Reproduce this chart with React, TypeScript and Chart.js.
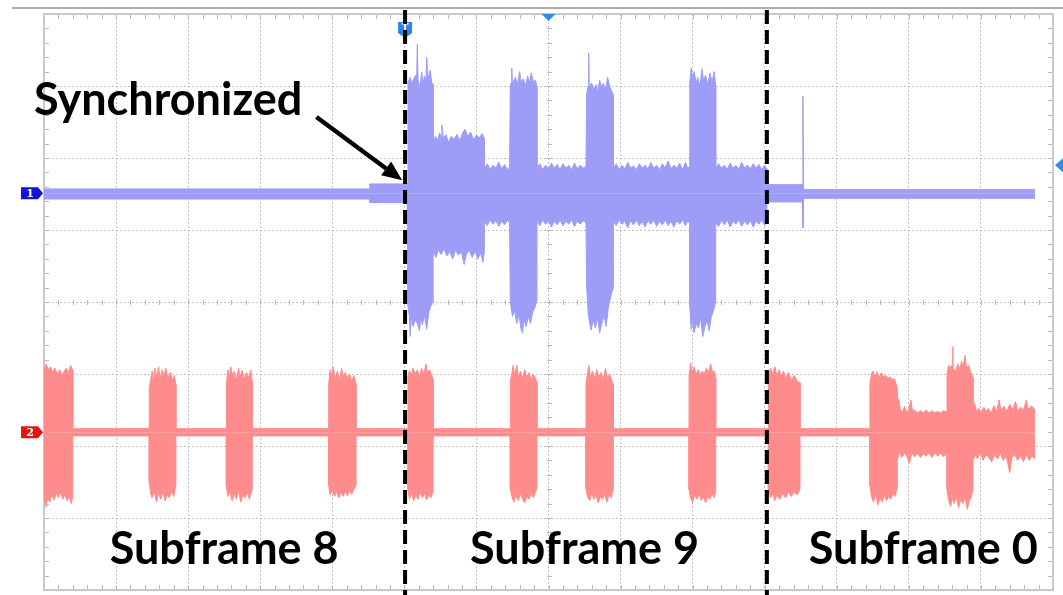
import React, { useEffect, useRef } from "react";
import { Chart, registerables } from "chart.js";

Chart.register(...registerables);

type P = [number, number];

// x: horizontal divisions (0..14), y: vertical divisions (0..8)
const xDivisions = 14;
const yDivisions = 8;

const ch1Offset = 5.51;
const ch2Offset = 2.19;

const ch1Upper: P[] = [
  [0, 5.57], [4.52, 5.57], [4.52, 5.64], [5.04, 5.64],
  [5.05, 7.05], [5.08, 7.12], [5.10, 7.04], [5.13, 7.10], [5.16, 7.15], [5.17, 7.06], [5.18, 7.58], [5.19, 7.08], [5.22, 6.98], [5.24, 7.20], [5.26, 7.03], [5.28, 7.14], [5.30, 7.05], [5.31, 7.40], [5.33, 7.10], [5.36, 7.22], [5.38, 7.05], [5.40, 7.02],
  [5.40, 6.22], [5.43, 6.30], [5.46, 6.25], [5.49, 6.35], [5.51, 6.27], [5.52, 6.46], [5.54, 6.28], [5.58, 6.32], [5.61, 6.22], [5.65, 6.30], [5.69, 6.26], [5.73, 6.33], [5.77, 6.24], [5.81, 6.35], [5.84, 6.40], [5.88, 6.30], [5.92, 6.36], [5.96, 6.25], [6.00, 6.32], [6.04, 6.28], [6.08, 6.34], [6.11, 6.27],
  [6.11, 5.85], [6.15, 5.92], [6.19, 5.84], [6.23, 5.90], [6.27, 5.86], [6.31, 5.94], [6.35, 5.85], [6.39, 5.91], [6.43, 5.84], [6.46, 5.88],
  [6.47, 7.00], [6.48, 7.04], [6.49, 7.25], [6.50, 7.04], [6.51, 7.05], [6.54, 7.12], [6.57, 7.02], [6.60, 7.20], [6.62, 7.06], [6.65, 7.10], [6.68, 7.00], [6.71, 7.14], [6.74, 7.04], [6.76, 7.18], [6.79, 7.06], [6.82, 7.08], [6.84, 6.98],
  [6.84, 5.86], [6.88, 5.92], [6.92, 5.84], [6.96, 5.90], [7.00, 5.85], [7.04, 5.93], [7.08, 5.86], [7.12, 5.91], [7.16, 5.84], [7.20, 5.92], [7.24, 5.86], [7.28, 5.90], [7.32, 5.84], [7.36, 5.93], [7.40, 5.85], [7.44, 5.90], [7.48, 5.86], [7.52, 5.88],
  [7.53, 6.90], [7.55, 7.00], [7.555, 7.00], [7.56, 7.46], [7.565, 6.98], [7.57, 6.98], [7.60, 7.04], [7.63, 6.95], [7.66, 7.02], [7.68, 6.92], [7.71, 7.08], [7.74, 6.98], [7.76, 7.04], [7.79, 6.95], [7.82, 7.12], [7.85, 7.00], [7.88, 6.92], [7.90, 6.88],
  [7.90, 5.86], [7.94, 5.92], [7.98, 5.84], [8.02, 5.90], [8.06, 5.85], [8.10, 5.94], [8.14, 5.86], [8.18, 5.89], [8.22, 5.84], [8.26, 5.92], [8.30, 5.86], [8.34, 5.90], [8.38, 5.85], [8.42, 5.94], [8.46, 5.86], [8.50, 5.90], [8.54, 5.84], [8.58, 5.92], [8.62, 5.86], [8.66, 5.96], [8.70, 5.85], [8.74, 5.90], [8.78, 5.86], [8.82, 5.93], [8.86, 5.84], [8.90, 5.94], [8.93, 5.86], [8.96, 5.88],
  [8.96, 7.05], [8.98, 7.25], [9.00, 7.10], [9.02, 7.20], [9.05, 7.04], [9.07, 7.12], [9.10, 7.00], [9.13, 7.24], [9.15, 7.08], [9.18, 7.15], [9.21, 7.02], [9.24, 7.18], [9.27, 7.06], [9.30, 7.20], [9.32, 7.00],
  [9.32, 5.85], [9.36, 5.92], [9.40, 5.86], [9.44, 5.90], [9.48, 5.84], [9.52, 5.93], [9.56, 5.86], [9.60, 5.90], [9.64, 5.84], [9.68, 5.94], [9.72, 5.86], [9.76, 5.90], [9.80, 5.85], [9.84, 5.92], [9.88, 5.86], [9.92, 5.91], [9.96, 5.84], [10.00, 5.90], [10.02, 5.86],
  [10.03, 5.63], [10.52, 5.63], [10.53, 6.86], [10.54, 5.56], [13.75, 5.56],
];

const ch1Lower: P[] = [
  [0, 5.43], [4.52, 5.43], [4.52, 5.38], [5.04, 5.38],
  [5.05, 3.95], [5.07, 3.80], [5.08, 3.52], [5.10, 3.80], [5.12, 3.66], [5.15, 3.75], [5.18, 3.70], [5.21, 3.60], [5.23, 3.78], [5.25, 3.68], [5.28, 3.82], [5.31, 3.62], [5.34, 3.86], [5.37, 3.95], [5.40, 4.03],
  [5.40, 4.70], [5.44, 4.62], [5.47, 4.72], [5.51, 4.66], [5.55, 4.74], [5.59, 4.64], [5.63, 4.70], [5.67, 4.60], [5.71, 4.72], [5.75, 4.65], [5.79, 4.70], [5.83, 4.52], [5.86, 4.66], [5.90, 4.72], [5.94, 4.62], [5.98, 4.70], [6.02, 4.60], [6.06, 4.68], [6.09, 4.55], [6.11, 4.70],
  [6.11, 5.12], [6.15, 5.06], [6.19, 5.14], [6.23, 5.08], [6.27, 5.13], [6.31, 5.05], [6.35, 5.12], [6.39, 5.07], [6.43, 5.14], [6.46, 5.10],
  [6.47, 4.00], [6.50, 3.80], [6.53, 3.88], [6.56, 3.70], [6.59, 3.82], [6.62, 3.62], [6.64, 3.57], [6.66, 3.75], [6.69, 3.66], [6.72, 3.80], [6.75, 3.70], [6.78, 3.86], [6.81, 3.92], [6.84, 4.02],
  [6.84, 5.12], [6.88, 5.06], [6.92, 5.14], [6.96, 5.08], [7.00, 5.13], [7.04, 5.04], [7.08, 5.12], [7.12, 5.07], [7.16, 5.14], [7.20, 5.06], [7.24, 5.12], [7.28, 5.08], [7.32, 5.14], [7.36, 5.05], [7.40, 5.12], [7.44, 5.08], [7.48, 5.13], [7.52, 5.10],
  [7.53, 4.20], [7.55, 3.86], [7.57, 3.70], [7.59, 3.61], [7.62, 3.75], [7.65, 3.64], [7.68, 3.78], [7.71, 3.57], [7.74, 3.70], [7.77, 3.82], [7.80, 3.66], [7.83, 3.92], [7.87, 4.10], [7.90, 4.20],
  [7.90, 5.12], [7.94, 5.06], [7.98, 5.14], [8.02, 5.08], [8.06, 5.12], [8.10, 5.03], [8.14, 5.13], [8.18, 5.07], [8.22, 5.14], [8.26, 5.06], [8.30, 5.12], [8.34, 5.04], [8.38, 5.13], [8.42, 5.08], [8.46, 5.14], [8.50, 5.05], [8.54, 5.12], [8.58, 5.07], [8.62, 5.14], [8.66, 5.06], [8.70, 5.12], [8.74, 5.04], [8.78, 5.13], [8.82, 5.08], [8.86, 5.14], [8.90, 5.06], [8.93, 5.12], [8.96, 5.10],
  [8.96, 3.95], [8.98, 3.62], [9.00, 3.75], [9.02, 3.57], [9.05, 3.70], [9.08, 3.64], [9.11, 3.78], [9.14, 3.52], [9.17, 3.66], [9.20, 3.74], [9.23, 3.60], [9.26, 3.80], [9.29, 3.88], [9.32, 4.00],
  [9.32, 5.10], [9.36, 5.05], [9.40, 5.13], [9.44, 5.07], [9.48, 5.14], [9.52, 5.04], [9.56, 5.12], [9.60, 5.08], [9.64, 5.14], [9.68, 5.05], [9.72, 5.12], [9.76, 5.07], [9.80, 5.13], [9.84, 5.04], [9.88, 5.12], [9.92, 5.08], [9.96, 5.14], [10.00, 5.06], [10.02, 5.12],
  [10.03, 5.39], [10.52, 5.39], [10.53, 5.03], [10.54, 5.44], [13.75, 5.44],
];

const ch2Upper: P[] = [
  [0.00, 3.05], [0.03, 3.14], [0.06, 3.06], [0.09, 3.10], [0.12, 3.02], [0.15, 3.08], [0.19, 3.00], [0.22, 3.06], [0.25, 2.98], [0.28, 3.04], [0.31, 3.08], [0.34, 3.02], [0.37, 3.12], [0.40, 3.05],
  [0.40, 2.24], [1.46, 2.24],
  [1.46, 2.80], [1.48, 2.92], [1.50, 3.04], [1.52, 2.90], [1.54, 3.08], [1.56, 2.95], [1.59, 3.10], [1.61, 2.92], [1.64, 3.06], [1.66, 2.96], [1.69, 3.08], [1.72, 2.94], [1.75, 3.02], [1.78, 2.92], [1.81, 2.98], [1.83, 2.85],
  [1.83, 2.24], [2.53, 2.24],
  [2.53, 2.85], [2.55, 3.06], [2.57, 2.95], [2.59, 3.10], [2.62, 2.96], [2.64, 3.04], [2.67, 2.92], [2.70, 3.08], [2.72, 2.96], [2.75, 3.05], [2.78, 2.93], [2.81, 3.02], [2.84, 2.94], [2.87, 3.06], [2.89, 2.88],
  [2.89, 2.24], [3.95, 2.24],
  [3.95, 2.85], [3.97, 3.06], [3.99, 2.96], [4.01, 3.10], [4.04, 2.94], [4.07, 3.04], [4.10, 2.92], [4.13, 3.08], [4.15, 2.97], [4.18, 3.02], [4.21, 2.94], [4.24, 3.00], [4.27, 2.90], [4.30, 2.98], [4.33, 2.86],
  [4.33, 2.24], [5.05, 2.24],
  [5.05, 2.95], [5.07, 3.05], [5.10, 2.98], [5.12, 3.08], [5.15, 3.00], [5.18, 3.06], [5.21, 2.96], [5.24, 3.08], [5.27, 3.00], [5.30, 3.14], [5.32, 3.02], [5.35, 3.06], [5.38, 2.98], [5.40, 2.92],
  [5.40, 2.24], [6.47, 2.24],
  [6.47, 2.90], [6.49, 3.00], [6.51, 3.12], [6.53, 2.98], [6.56, 3.12], [6.58, 2.96], [6.61, 3.04], [6.64, 2.94], [6.67, 3.06], [6.70, 2.95], [6.73, 3.02], [6.76, 2.92], [6.79, 3.00], [6.82, 2.94], [6.84, 2.88],
  [6.84, 2.24], [7.52, 2.24],
  [7.52, 2.88], [7.54, 3.00], [7.56, 3.12], [7.58, 2.96], [7.61, 3.04], [7.64, 2.94], [7.67, 3.06], [7.70, 2.96], [7.73, 3.02], [7.76, 2.92], [7.79, 3.08], [7.82, 2.94], [7.85, 3.00], [7.88, 2.90], [7.90, 2.85],
  [7.90, 2.24], [8.95, 2.24],
  [8.95, 2.95], [8.97, 3.15], [8.99, 3.02], [9.02, 3.10], [9.05, 3.00], [9.08, 3.06], [9.10, 2.98], [9.13, 3.04], [9.16, 3.00], [9.19, 3.08], [9.22, 3.02], [9.25, 3.14], [9.28, 3.00], [9.30, 3.04], [9.32, 2.95],
  [9.32, 2.24], [10.05, 2.24],
  [10.05, 2.95], [10.08, 3.08], [10.11, 3.00], [10.14, 3.10], [10.17, 2.98], [10.20, 3.06], [10.23, 2.96], [10.26, 3.04], [10.29, 2.94], [10.33, 3.02], [10.37, 2.92], [10.41, 2.98], [10.45, 2.90], [10.49, 2.88],
  [10.49, 2.24], [11.46, 2.24],
  [11.46, 2.85], [11.48, 3.00], [11.50, 3.04], [11.53, 2.96], [11.56, 3.03], [11.59, 2.95], [11.62, 3.02], [11.65, 2.96], [11.68, 2.98], [11.71, 2.94], [11.74, 2.96], [11.77, 2.92], [11.80, 2.94], [11.84, 2.80],
  [11.84, 2.50], [11.86, 2.66], [11.88, 2.52], [11.91, 2.47], [11.94, 2.55], [11.97, 2.46], [12.00, 2.52], [12.03, 2.64], [12.05, 2.48], [12.08, 2.50], [12.12, 2.46], [12.16, 2.49], [12.20, 2.46], [12.24, 2.50], [12.28, 2.46], [12.32, 2.49], [12.36, 2.46], [12.40, 2.48], [12.44, 2.46], [12.48, 2.49], [12.53, 2.47],
  [12.53, 3.00], [12.55, 3.12], [12.57, 3.06], [12.59, 3.12], [12.605, 3.08], [12.61, 3.38], [12.615, 3.08], [12.62, 3.08], [12.65, 3.04], [12.68, 3.14], [12.71, 3.06], [12.73, 3.18], [12.75, 3.10], [12.78, 3.26], [12.80, 3.08], [12.83, 3.12], [12.86, 3.02], [12.89, 2.95],
  [12.89, 2.55], [12.91, 2.60], [12.94, 2.48], [12.97, 2.52], [13.00, 2.46], [13.04, 2.54], [13.07, 2.48], [13.10, 2.52], [13.14, 2.46], [13.18, 2.56], [13.22, 2.48], [13.25, 2.64], [13.28, 2.50], [13.32, 2.55], [13.36, 2.48], [13.40, 2.58], [13.44, 2.50], [13.48, 2.62], [13.51, 2.48], [13.55, 2.54], [13.59, 2.50], [13.63, 2.64], [13.66, 2.50], [13.70, 2.56], [13.75, 2.50],
];

const ch2Lower: P[] = [
  [0.00, 1.30], [0.03, 1.15], [0.05, 1.28], [0.08, 1.22], [0.11, 1.32], [0.14, 1.25], [0.17, 1.34], [0.20, 1.28], [0.23, 1.36], [0.26, 1.26], [0.29, 1.33], [0.32, 1.24], [0.35, 1.30], [0.38, 1.20], [0.40, 1.30],
  [0.40, 2.14], [1.46, 2.14],
  [1.46, 1.50], [1.48, 1.34], [1.50, 1.28], [1.53, 1.38], [1.56, 1.22], [1.59, 1.34], [1.62, 1.26], [1.65, 1.36], [1.68, 1.24], [1.71, 1.32], [1.74, 1.28], [1.77, 1.38], [1.80, 1.30], [1.83, 1.45],
  [1.83, 2.14], [2.53, 2.14],
  [2.53, 1.45], [2.55, 1.30], [2.58, 1.36], [2.61, 1.24], [2.64, 1.34], [2.67, 1.26], [2.70, 1.38], [2.73, 1.22], [2.76, 1.32], [2.79, 1.28], [2.82, 1.36], [2.85, 1.26], [2.89, 1.40],
  [2.89, 2.14], [3.95, 2.14],
  [3.95, 1.45], [3.97, 1.32], [4.00, 1.38], [4.03, 1.30], [4.06, 1.36], [4.09, 1.28], [4.12, 1.35], [4.15, 1.30], [4.18, 1.37], [4.21, 1.31], [4.24, 1.38], [4.27, 1.33], [4.30, 1.40], [4.33, 1.45],
  [4.33, 2.14], [5.05, 2.14],
  [5.05, 1.40], [5.07, 1.26], [5.10, 1.34], [5.13, 1.24], [5.16, 1.32], [5.19, 1.26], [5.22, 1.36], [5.25, 1.28], [5.28, 1.34], [5.31, 1.25], [5.34, 1.32], [5.37, 1.28], [5.40, 1.38],
  [5.40, 2.14], [6.47, 2.14],
  [6.47, 1.40], [6.49, 1.30], [6.52, 1.22], [6.55, 1.32], [6.58, 1.24], [6.61, 1.34], [6.64, 1.26], [6.67, 1.21], [6.70, 1.30], [6.73, 1.26], [6.76, 1.34], [6.79, 1.28], [6.82, 1.36], [6.84, 1.42],
  [6.84, 2.14], [7.52, 2.14],
  [7.52, 1.40], [7.54, 1.30], [7.57, 1.24], [7.60, 1.34], [7.63, 1.26], [7.66, 1.32], [7.69, 1.21], [7.72, 1.30], [7.75, 1.26], [7.78, 1.34], [7.81, 1.22], [7.84, 1.32], [7.87, 1.28], [7.90, 1.40],
  [7.90, 2.14], [8.95, 2.14],
  [8.95, 1.40], [8.97, 1.28], [9.00, 1.22], [9.03, 1.32], [9.06, 1.26], [9.09, 1.34], [9.12, 1.24], [9.15, 1.30], [9.18, 1.21], [9.21, 1.30], [9.24, 1.26], [9.27, 1.34], [9.30, 1.28], [9.32, 1.38],
  [9.32, 2.14], [10.05, 2.14],
  [10.05, 1.40], [10.08, 1.28], [10.11, 1.34], [10.14, 1.24], [10.17, 1.32], [10.21, 1.26], [10.25, 1.34], [10.29, 1.28], [10.33, 1.36], [10.37, 1.30], [10.41, 1.36], [10.45, 1.32], [10.49, 1.40],
  [10.49, 2.14], [11.46, 2.14],
  [11.46, 1.45], [11.48, 1.30], [11.51, 1.22], [11.54, 1.34], [11.57, 1.18], [11.60, 1.28], [11.63, 1.22], [11.66, 1.32], [11.69, 1.24], [11.72, 1.30], [11.75, 1.26], [11.78, 1.34], [11.81, 1.30], [11.84, 1.42],
  [11.84, 1.80], [11.87, 1.92], [11.90, 1.84], [11.94, 1.90], [11.97, 1.86], [12.01, 1.76], [12.04, 1.90], [12.08, 1.85], [12.12, 1.90], [12.16, 1.84], [12.20, 1.89], [12.24, 1.86], [12.28, 1.90], [12.32, 1.84], [12.36, 1.90], [12.40, 1.86], [12.44, 1.90], [12.48, 1.85], [12.53, 1.90],
  [12.53, 1.40], [12.55, 1.25], [12.58, 1.16], [12.60, 1.28], [12.63, 1.20], [12.66, 1.30], [12.69, 1.14], [12.72, 1.26], [12.75, 1.20], [12.78, 1.30], [12.81, 1.12], [12.84, 1.24], [12.87, 1.30], [12.89, 1.40],
  [12.89, 1.80], [12.92, 1.88], [12.95, 1.82], [12.99, 1.90], [13.03, 1.80], [13.07, 1.88], [13.11, 1.84], [13.15, 1.78], [13.19, 1.88], [13.23, 1.82], [13.27, 1.90], [13.31, 1.80], [13.35, 1.86], [13.40, 1.63], [13.43, 1.84], [13.47, 1.88], [13.51, 1.80], [13.55, 1.86], [13.59, 1.78], [13.63, 1.88], [13.67, 1.80], [13.71, 1.86], [13.75, 1.82],
];

const subframeBoundaries = [5.01, 10.03];
const subframeLabels = ["Subframe 8", "Subframe 9", "Subframe 0"];
const subframeLabelCenters = [2.5, 7.5, 12.2];
const subframeLabelBaseline = 0.36;
const syncLabel = "Synchronized";
const syncLabelPos: P = [-0.14, 6.6];
const syncArrowFrom: P = [3.78, 6.57];
const syncArrowTo: P = [4.97, 5.69];
const triggerX = 5.01;
const centerX = 7;
const triggerLevelY = 5.9;

const ch1Color = "#9d9df7";
const ch2Color = "#ff8c8c";

const scopePlugin = {
  id: "scope",
  beforeDatasetsDraw(chart: any) {
    const { ctx, chartArea: a, scales } = chart;
    const x = scales.x, y = scales.y;
    ctx.save();
    ctx.strokeStyle = "#b9b9b9";
    ctx.lineWidth = 1;
    ctx.beginPath();
    const cy = Math.round(y.getPixelForValue(yDivisions / 2)) + 0.5;
    const cx = Math.round(x.getPixelForValue(centerX)) + 0.5;
    for (let i = 0; i <= xDivisions * 5; i++) {
      const px = Math.round(x.getPixelForValue(i / 5)) + 0.5;
      ctx.moveTo(px, a.top); ctx.lineTo(px, a.top + 5);
      ctx.moveTo(px, a.bottom); ctx.lineTo(px, a.bottom - 5);
      ctx.moveTo(px, cy - 2.5); ctx.lineTo(px, cy + 2.5);
    }
    for (let j = 0; j <= yDivisions * 5; j++) {
      const py = Math.round(y.getPixelForValue(j / 5)) + 0.5;
      ctx.moveTo(a.left, py); ctx.lineTo(a.left + 5, py);
      ctx.moveTo(a.right, py); ctx.lineTo(a.right - 5, py);
      ctx.moveTo(cx - 2.5, py); ctx.lineTo(cx + 2.5, py);
    }
    ctx.stroke();
    ctx.strokeStyle = "#c8c8c8";
    ctx.lineWidth = 2;
    ctx.strokeRect(a.left, a.top, a.right - a.left, a.bottom - a.top);
    ctx.restore();
  },
  afterDraw(chart: any) {
    const { ctx, chartArea: a, scales, width, height } = chart;
    const x = scales.x, y = scales.y;
    ctx.save();
    // top status line
    ctx.strokeStyle = "#8f8f8f";
    ctx.lineWidth = 1.5;
    ctx.beginPath();
    ctx.moveTo(12, a.top - 6);
    ctx.lineTo(width, a.top - 6);
    ctx.stroke();

    // channel markers
    const flag = (yv: number, color: string, label: string) => {
      const py = y.getPixelForValue(yv);
      const r = a.left - 1;
      ctx.fillStyle = color;
      ctx.beginPath();
      ctx.moveTo(r - 22, py - 6);
      ctx.lineTo(r - 5, py - 6);
      ctx.lineTo(r, py);
      ctx.lineTo(r - 5, py + 6);
      ctx.lineTo(r - 22, py + 6);
      ctx.closePath();
      ctx.fill();
      ctx.fillStyle = "#ffffff";
      ctx.font = "bold 11px 'DejaVu Serif', serif";
      ctx.textAlign = "center";
      ctx.textBaseline = "middle";
      ctx.fillText(label, r - 13, py + 0.5);
    };
    flag(ch1Offset, "#1414d8", "1");
    flag(ch2Offset, "#e41414", "2");

    // trigger position marker
    const tx = x.getPixelForValue(triggerX);
    ctx.fillStyle = "#2a86e0";
    ctx.beginPath();
    ctx.moveTo(tx - 7, a.top + 8);
    ctx.lineTo(tx + 7, a.top + 8);
    ctx.lineTo(tx + 7, a.top + 19);
    ctx.lineTo(tx, a.top + 24);
    ctx.lineTo(tx - 7, a.top + 19);
    ctx.closePath();
    ctx.fill();
    ctx.fillStyle = "#ffffff";
    ctx.font = "bold 10px 'DejaVu Sans', sans-serif";
    ctx.textAlign = "center";
    ctx.textBaseline = "middle";
    ctx.fillText("T", tx, a.top + 14);

    // center marker
    const mx = x.getPixelForValue(centerX);
    ctx.fillStyle = "#2f8ce8";
    ctx.beginPath();
    ctx.moveTo(mx - 7, a.top);
    ctx.lineTo(mx + 7, a.top);
    ctx.lineTo(mx, a.top + 7);
    ctx.closePath();
    ctx.fill();

    // trigger level marker
    const ly = y.getPixelForValue(triggerLevelY);
    ctx.beginPath();
    ctx.moveTo(width, ly - 7);
    ctx.lineTo(width, ly + 7);
    ctx.lineTo(width - 8, ly);
    ctx.closePath();
    ctx.fill();

    // subframe boundaries
    ctx.strokeStyle = "#000000";
    ctx.lineWidth = 4;
    ctx.setLineDash([14, 6]);
    subframeBoundaries.forEach((b) => {
      const bx = x.getPixelForValue(b);
      ctx.beginPath();
      ctx.moveTo(bx, a.top - 4);
      ctx.lineTo(bx, height);
      ctx.stroke();
    });
    ctx.setLineDash([]);

    // arrow
    const ax0 = x.getPixelForValue(syncArrowFrom[0]);
    const ay0 = y.getPixelForValue(syncArrowFrom[1]);
    const ax1 = x.getPixelForValue(syncArrowTo[0]);
    const ay1 = y.getPixelForValue(syncArrowTo[1]);
    const ang = Math.atan2(ay1 - ay0, ax1 - ax0);
    const headLen = 20;
    const hx = ax1 - headLen * Math.cos(ang);
    const hy = ay1 - headLen * Math.sin(ang);
    ctx.lineWidth = 4.5;
    ctx.beginPath();
    ctx.moveTo(ax0, ay0);
    ctx.lineTo(hx, hy);
    ctx.stroke();
    ctx.fillStyle = "#000000";
    ctx.beginPath();
    ctx.moveTo(ax1, ay1);
    ctx.lineTo(hx + 8.5 * Math.sin(ang), hy - 8.5 * Math.cos(ang));
    ctx.lineTo(hx - 8.5 * Math.sin(ang), hy + 8.5 * Math.cos(ang));
    ctx.closePath();
    ctx.fill();

    // texts
    ctx.fillStyle = "#000000";
    ctx.textBaseline = "alphabetic";
    ctx.font = "bold 45px Lato, 'Open Sans', sans-serif";
    ctx.textAlign = "left";
    ctx.fillText(syncLabel, x.getPixelForValue(syncLabelPos[0]), y.getPixelForValue(syncLabelPos[1]));
    ctx.font = "bold 45px Lato, 'Open Sans', sans-serif";
    ctx.textAlign = "center";
    subframeLabels.forEach((t, i) => {
      ctx.fillText(t, x.getPixelForValue(subframeLabelCenters[i]), y.getPixelForValue(subframeLabelBaseline));
    });
    ctx.restore();
  },
};

const toPts = (arr: P[]) => arr.map(([px, py]) => ({ x: px, y: py }));

export default function App() {
  const ref = useRef<HTMLCanvasElement | null>(null);
  useEffect(() => {
    if (!ref.current) return;
    const mk = (label: string, arr: P[], color: string, base: number) => ({
      label,
      data: toPts(arr),
      borderColor: color,
      backgroundColor: color,
      borderWidth: 1,
      pointRadius: 0,
      tension: 0,
      fill: { value: base },
    });
    const chart = new Chart(ref.current, {
      type: "line",
      data: {
        datasets: [
          mk("CH1 max", ch1Upper, ch1Color, ch1Offset),
          mk("CH1 min", ch1Lower, ch1Color, ch1Offset),
          mk("CH2 max", ch2Upper, ch2Color, ch2Offset),
          mk("CH2 min", ch2Lower, ch2Color, ch2Offset),
        ] as any,
      },
      options: {
        animation: false,
        responsive: false,
        devicePixelRatio: 1,
        layout: { padding: { left: 44, top: 14, right: 10, bottom: 5 } },
        plugins: { legend: { display: false }, tooltip: { enabled: false } },
        scales: {
          x: {
            type: "linear",
            min: 0,
            max: xDivisions,
            ticks: { display: false, stepSize: 1 },
            grid: { color: "#c2c2c2", lineWidth: 1, drawTicks: false },
            border: { display: false, dash: [2, 2] },
          },
          y: {
            type: "linear",
            min: 0,
            max: yDivisions,
            ticks: { display: false, stepSize: 1 },
            grid: { color: "#c2c2c2", lineWidth: 1, drawTicks: false },
            border: { display: false, dash: [2, 2] },
          },
        },
      },
      plugins: [scopePlugin],
    });
    return () => chart.destroy();
  }, []);
  return (
    <div style={{ position: "fixed", left: 0, top: 0, width: 1063, height: 595, background: "#ffffff" }}>
      <canvas ref={ref} width={1063} height={595} style={{ display: "block" }} />
    </div>
  );
}
